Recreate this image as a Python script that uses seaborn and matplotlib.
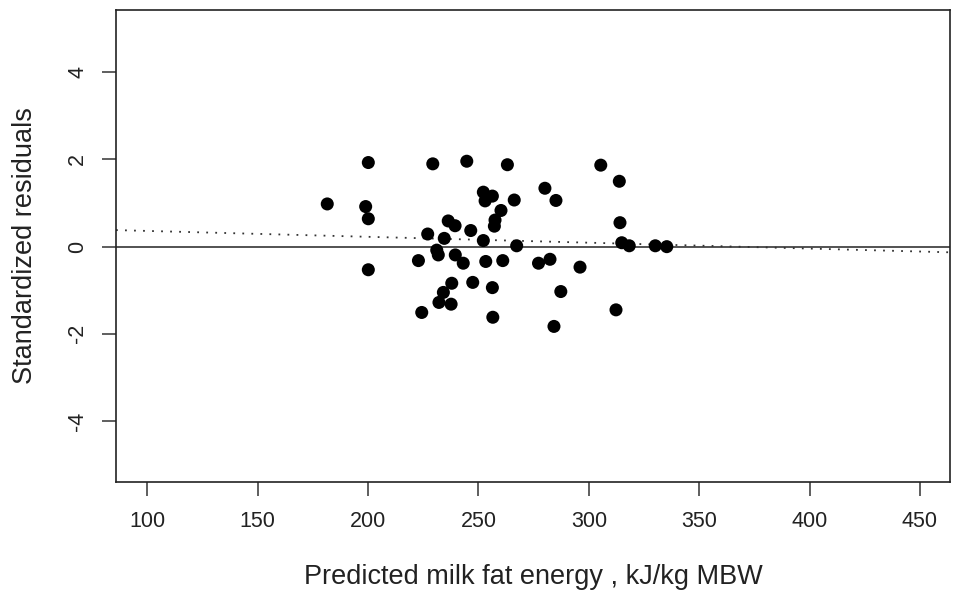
import matplotlib
matplotlib.use("Agg")
import matplotlib.pyplot as plt
import seaborn as sns
import numpy as np
import pandas as pd

# Predicted milk fat energy (kJ/kg MBW)
predicted = [181.5, 200.1, 198.9, 200.1, 200.1, 229.3, 244.7, 263.1, 280.1, 305.4,
             313.8, 252.2, 256.3, 253.0, 266.2, 285.1, 260.2, 257.5, 257.2, 236.3,
             239.4, 246.5, 227.0, 234.5, 252.2, 267.3, 314.1, 314.9, 318.3, 330.1,
             335.3, 231.1, 231.8, 222.8, 239.5, 243.1, 253.3, 261.0, 277.2, 282.4,
             296.0, 237.9, 247.4, 256.3, 234.1, 232.1, 237.6, 224.3, 256.5, 287.3,
             312.3, 284.2]
# Standardized residuals
residuals = [0.98, 1.93, 0.92, 0.64, -0.53, 1.90, 1.96, 1.88, 1.34, 1.87,
             1.50, 1.25, 1.16, 1.05, 1.07, 1.06, 0.83, 0.61, 0.47, 0.59,
             0.48, 0.37, 0.29, 0.19, 0.14, 0.02, 0.55, 0.09, 0.02, 0.02,
             0.00, -0.08, -0.19, -0.32, -0.19, -0.38, -0.34, -0.32, -0.38, -0.29,
             -0.47, -0.84, -0.82, -0.94, -1.05, -1.28, -1.32, -1.51, -1.62, -1.03,
             -1.45, -1.83]

# dotted trend line (endpoints at the plot edges)
trend_x = [85.8, 463.6]
trend_y = [0.38, -0.13]

x_ticks = [100, 150, 200, 250, 300, 350, 400, 450]
y_ticks = [-4, -2, 0, 2, 4]

df = pd.DataFrame({"predicted": predicted, "residual": residuals})

sns.set_style("ticks")
plt.rcParams["font.family"] = ["Liberation Sans", "DejaVu Sans"]

fig = plt.figure(figsize=(9.56, 5.97), dpi=100)
ax = fig.add_axes([116 / 956, 1 - 482 / 597, (950 - 116) / 956, (482 - 10) / 597])

ax.axhline(0, color="#444444", lw=1.3, zorder=1)
sns.lineplot(x=trend_x, y=trend_y, ax=ax, color="#333333", lw=1.3,
             linestyle=(0, (1, 4)), zorder=1)
sns.scatterplot(data=df, x="predicted", y="residual", ax=ax, color="black",
                s=88, edgecolor="none", zorder=3)

ax.set_xlim(85.8, 463.6)
ax.set_ylim(-5.4, 5.43)
ax.set_xticks(x_ticks)
ax.set_yticks(y_ticks)
ax.set_yticklabels([str(v) for v in y_ticks], rotation=90, va="center")
ax.tick_params(axis="both", direction="out", length=10, width=1.1, color="#333333",
               labelsize=15.5, labelcolor="#222222")
ax.tick_params(axis="x", pad=11)
ax.tick_params(axis="y", pad=10)
for sp in ax.spines.values():
    sp.set_visible(True)
    sp.set_linewidth(1.2)
    sp.set_color("#222222")

ax.set_xlabel("Predicted milk fat energy , kJ/kg MBW", fontsize=19.5, color="#222222", labelpad=23)
ax.set_ylabel("Standardized residuals", fontsize=19.5, color="#222222", labelpad=21)

fig.savefig("out.png", dpi=100)
